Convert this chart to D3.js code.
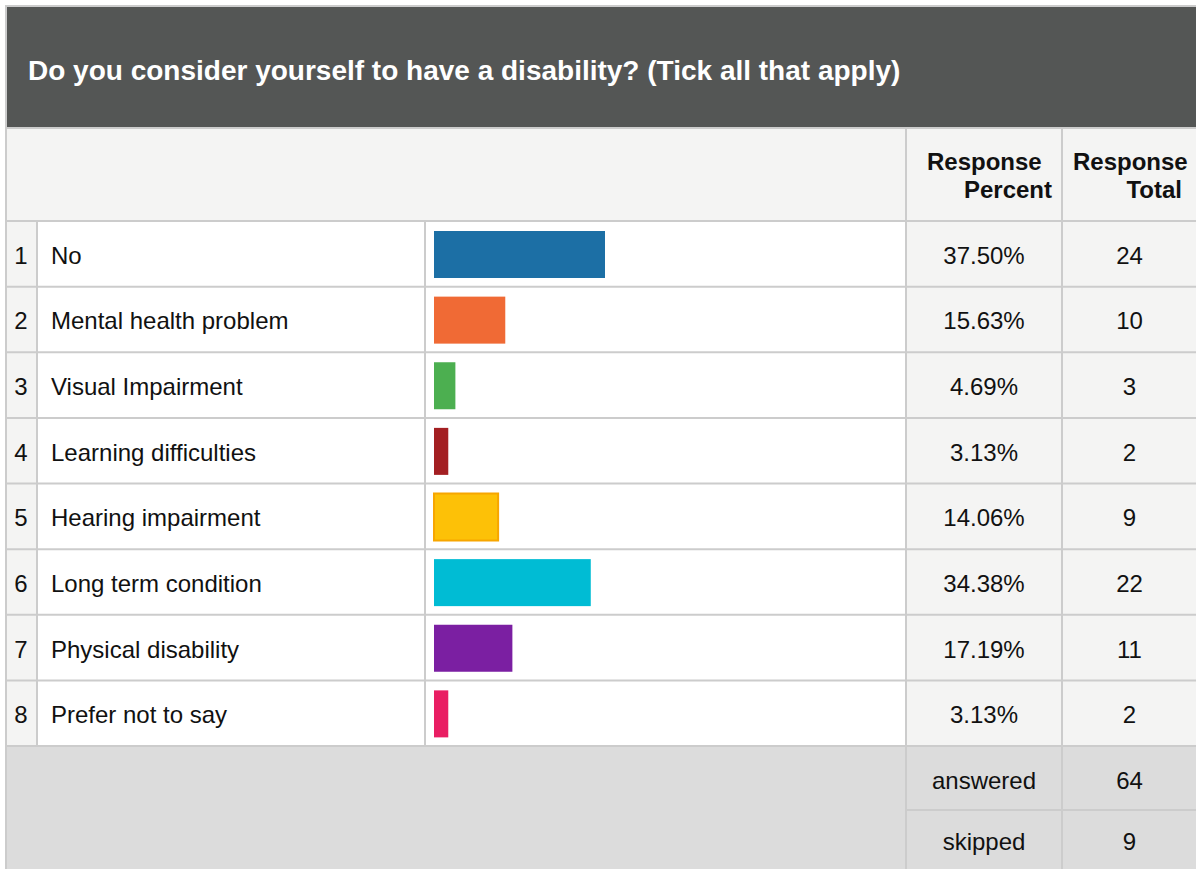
<!DOCTYPE html>
<html>
<head>
<meta charset="utf-8">
<script src="https://cdn.jsdelivr.net/npm/d3@7"></script>
<style>
  html, body { margin: 0; padding: 0; background: #fff; }
  svg text { font-family: "Liberation Sans", Arial, sans-serif; }
</style>
</head>
<body>
<svg id="chart" width="1196" height="869"></svg>
<script>
// Survey question and answers
const title = "Do you consider yourself to have a disability? (Tick all that apply)";
const categories = ["No", "Mental health problem", "Visual Impairment", "Learning difficulties",
  "Hearing impairment", "Long term condition", "Physical disability", "Prefer not to say"];
const percents = [37.50, 15.63, 4.69, 3.13, 14.06, 34.38, 17.19, 3.13];
const totals = [24, 10, 3, 2, 9, 22, 11, 2];
const barColors = ["#1c6fa5", "#f06a35", "#4caf50", "#a31f22", "#fdc107", "#00bcd4", "#7b1fa2", "#e91e63"];
const summaryLabels = ["answered", "skipped"];
const summaryValues = [64, 9];
const headerLines = [["Response", "Percent"], ["Response", "Total"]];

const svg = d3.select("#chart");
const W = 1196, H = 869;
const left = 7, right = W;
const colIdx = 37, colBar = 425, colPct = 906, colTot = 1062;
const titleTop = 7, titleBottom = 128, headBottom = 221;
const rowH = 65.625;
const rowsBottom = headBottom + rowH * categories.length;
const sumSplit = 810;
const gridColor = "#cccccc";
const textColor = "#111111";
const fs = 24;

// Row band scale
const y = d3.scaleBand().domain(d3.range(categories.length))
  .range([headBottom, rowsBottom]).paddingInner(0).paddingOuter(0);
// Bar length scale: percent of respondents
const x = d3.scaleLinear().domain([0, 100]).range([0, 456]);

// Title block
svg.append("rect").attr("x", left).attr("y", titleTop).attr("width", right - left)
  .attr("height", titleBottom - titleTop).attr("fill", "#545655");
svg.append("text").attr("x", 28).attr("y", 80).attr("fill", "#fff")
  .attr("font-size", 28).attr("font-weight", "bold").text(title);

// Column header block
svg.append("rect").attr("x", left).attr("y", titleBottom).attr("width", right - left)
  .attr("height", headBottom - titleBottom).attr("fill", "#f4f4f3");
// first line starts at the cell's left padding, second line is right-aligned
const headerStart = [927, 1073];
const headerEnd = [1052, 1182];
headerLines.forEach((lines, c) => {
  svg.append("text").attr("x", headerStart[c]).attr("y", 170)
    .attr("font-size", fs).attr("font-weight", "bold").attr("fill", textColor).text(lines[0]);
  svg.append("text").attr("x", headerEnd[c]).attr("y", 198).attr("text-anchor", "end")
    .attr("font-size", fs).attr("font-weight", "bold").attr("fill", textColor).text(lines[1]);
});

// Data rows
const rows = svg.append("g").selectAll("g").data(categories).join("g")
  .attr("transform", (d, i) => `translate(0,${y(i)})`);
rows.append("rect").attr("x", left).attr("width", colIdx - left).attr("height", y.bandwidth()).attr("fill", "#f4f4f3");
rows.append("rect").attr("x", colIdx).attr("width", colPct - colIdx).attr("height", y.bandwidth()).attr("fill", "#fff");
rows.append("rect").attr("x", colPct).attr("width", right - colPct).attr("height", y.bandwidth()).attr("fill", "#f4f4f3");

const mid = y.bandwidth() / 2 + 10;
rows.append("text").attr("x", 21).attr("y", mid).attr("text-anchor", "middle")
  .attr("font-size", fs).attr("fill", textColor).text((d, i) => i + 1);
rows.append("text").attr("x", 51).attr("y", mid)
  .attr("font-size", fs).attr("fill", textColor).text(d => d);
rows.append("rect").attr("x", 434).attr("y", 10).attr("height", 47)
  .attr("width", (d, i) => x(percents[i]))
  .attr("fill", (d, i) => barColors[i])
  .attr("stroke", (d, i) => i === 4 ? "#f7a600" : "none")
  .attr("stroke-width", 2);
rows.append("text").attr("x", 984).attr("y", mid).attr("text-anchor", "middle")
  .attr("font-size", fs).attr("fill", textColor).text((d, i) => percents[i].toFixed(2) + "%");
rows.append("text").attr("x", 1129.5).attr("y", mid).attr("text-anchor", "middle")
  .attr("font-size", fs).attr("fill", textColor).text((d, i) => totals[i]);

// Summary block
svg.append("rect").attr("x", left).attr("y", rowsBottom).attr("width", right - left)
  .attr("height", H - rowsBottom).attr("fill", "#dcdcdc");
const sumBase = [789, 850];
summaryLabels.forEach((lab, i) => {
  svg.append("text").attr("x", 984).attr("y", sumBase[i]).attr("text-anchor", "middle")
    .attr("font-size", fs).attr("fill", textColor).text(lab);
  svg.append("text").attr("x", 1129.5).attr("y", sumBase[i]).attr("text-anchor", "middle")
    .attr("font-size", fs).attr("fill", textColor).text(summaryValues[i]);
});

// Grid lines
const g = svg.append("g").attr("stroke", gridColor).attr("stroke-width", 2).attr("fill", "none");
g.append("line").attr("x1", left).attr("x2", right).attr("y1", titleTop - 1).attr("y2", titleTop - 1);
g.append("line").attr("x1", left - 1).attr("x2", left - 1).attr("y1", titleTop - 2).attr("y2", H);
g.append("line").attr("x1", left).attr("x2", right).attr("y1", titleBottom).attr("y2", titleBottom);
d3.range(categories.length + 1).forEach(i => {
  const yy = headBottom + i * rowH;
  g.append("line").attr("x1", left).attr("x2", right).attr("y1", yy).attr("y2", yy);
});
[colIdx, colBar].forEach(cx => g.append("line").attr("x1", cx).attr("x2", cx)
  .attr("y1", headBottom).attr("y2", rowsBottom));
[colPct, colTot].forEach(cx => g.append("line").attr("x1", cx).attr("x2", cx)
  .attr("y1", titleBottom).attr("y2", H));
g.append("line").attr("x1", colPct).attr("x2", right).attr("y1", sumSplit).attr("y2", sumSplit);
</script>
</body>
</html>
